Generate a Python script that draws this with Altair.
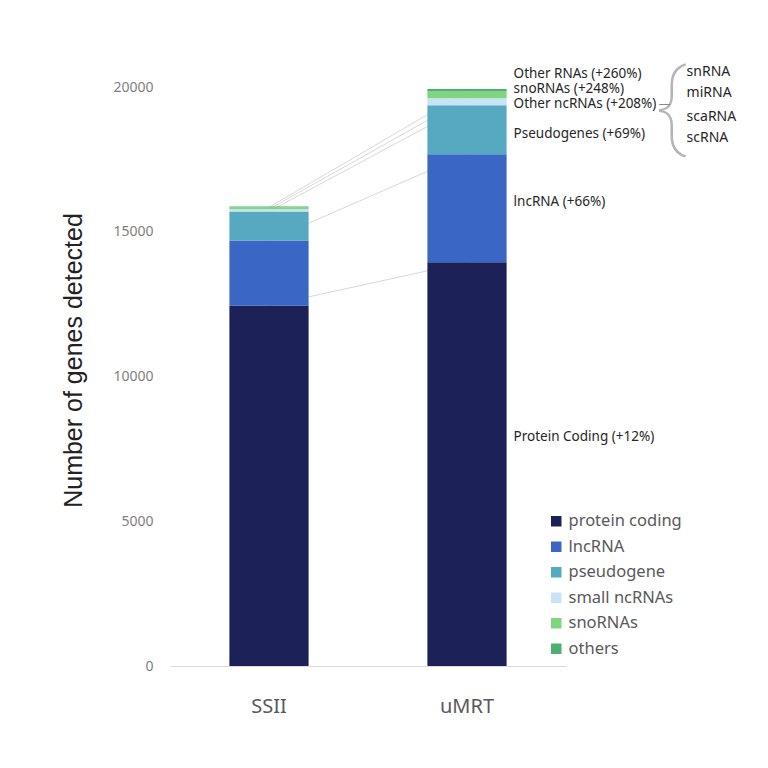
import altair as alt
import pandas as pd

methods = ["SSII", "uMRT"]
categories = ["protein coding", "lncRNA", "pseudogene", "small ncRNAs", "snoRNAs", "others"]
colors = ["#1c2257", "#3a66c5", "#57a8c1", "#c7e4f6", "#7fd67c", "#4daf74"]
ssii_counts = [12450, 2250, 1000, 80, 65, 25]
umrt_counts = [13950, 3730, 1690, 245, 226, 90]

ann_labels = ["Protein Coding (+12%)", "lncRNA (+66%)", "Pseudogenes (+69%)",
              "Other ncRNAs (+208%)", "snoRNAs (+248%)", "Other RNAs (+260%)"]
# label nudges (pixels, + = downward) relative to the segment middle
ann_dy = [-27, -6, 4, 2, -6, -16]
subtypes = ["snRNA", "miRNA", "scaRNA", "scRNA"]
sub_dy = [-32, -11, 13, 34]

FONT = "Noto Sans"
W, H = 396, 579
YMAX = 20000
PX = YMAX / H  # data units per pixel

rows = []
for m, counts in zip(methods, [ssii_counts, umrt_counts]):
    cum = 0
    for i, (c, v) in enumerate(zip(categories, counts)):
        rows.append({"method": m, "category": c, "idx": i, "value": v,
                     "top": cum + v, "mid": cum + v / 2})
        cum += v
df = pd.DataFrame(rows)

umrt = df[df.method == "uMRT"].reset_index(drop=True)
ann = pd.DataFrame({"method": "uMRT", "label": ann_labels,
                    "y": [m - d * PX for m, d in zip(umrt["mid"], ann_dy)]})
anchor_y = float(umrt.loc[3, "mid"]) - 2 * PX
sub = pd.DataFrame({"method": "uMRT", "label": subtypes,
                    "y": [anchor_y - d * PX for d in sub_dy]})
brace = pd.DataFrame({"method": ["uMRT"], "y": [anchor_y]})

xscale = alt.Scale(domain=methods, paddingInner=0.6, paddingOuter=0.3)
yscale = alt.Scale(domain=[0, YMAX])
ytitle = "Number of genes detected"
yaxis = alt.Axis(values=[0, 5000, 10000, 15000, 20000], grid=False, domain=False, ticks=False,
                 labelFontSize=14, labelColor="#7f7f7f", labelPadding=17, format="d",
                 title=ytitle, titleFontSize=25, titleFontWeight="normal", titleColor="#222222",
                 titleFont="Liberation Sans", labelFont=FONT,
                 titleAngle=-90, titleX=-97, titleY=273, titleAlign="center", titleBaseline="middle")
xaxis = alt.Axis(title=None, labelAngle=0, domainColor="#d9d9d9", ticks=False,
                 labelFontSize=20, labelColor="#595959", labelPadding=30, labelFont=FONT)

lines = alt.Chart(df[df.idx < 5]).mark_line(color="#d9d9d9", strokeWidth=1).encode(
    x=alt.X("method:N", scale=xscale, axis=xaxis, sort=methods),
    y=alt.Y("top:Q", scale=yscale, axis=yaxis, title=ytitle),
    detail="category:N",
)

bars = alt.Chart(df).mark_bar().encode(
    x=alt.X("method:N", scale=xscale, axis=xaxis, sort=methods),
    y=alt.Y("value:Q", stack="zero", scale=yscale, axis=yaxis, title=ytitle),
    color=alt.Color("category:N", scale=alt.Scale(domain=categories, range=colors),
                    legend=alt.Legend(title=None, orient="none", legendX=378, legendY=426,
                                      symbolType="square", symbolSize=110, symbolStrokeWidth=0,
                                      labelFontSize=16.5, labelColor="#595959", labelFont=FONT,
                                      rowPadding=8.5)),
    order=alt.Order("idx:Q", sort="ascending"),
)

labels = alt.Chart(ann).mark_text(align="left", baseline="middle", dx=7, fontSize=13.5,
                                  color="#262626", font=FONT).encode(
    x=alt.X("method:N", bandPosition=1),
    y=alt.Y("y:Q"),
    text="label:N",
)

sublabels = alt.Chart(sub).mark_text(align="left", baseline="middle", dx=180, fontSize=14,
                                     color="#262626", font=FONT).encode(
    x=alt.X("method:N", bandPosition=1),
    y=alt.Y("y:Q"),
    text="label:N",
)

brace_mark = alt.Chart(brace).mark_text(align="left", baseline="middle", dx=149, dy=4, fontSize=95,
                                        color="#b5b5b5", font="Roboto", fontWeight=100,
                                        text="{").encode(
    x=alt.X("method:N", bandPosition=1),
    y=alt.Y("y:Q"),
)

connector = alt.Chart(brace).mark_text(align="left", baseline="middle", dx=152, fontSize=12,
                                       color="#8a8a8a", font=FONT, text="\u2014").encode(
    x=alt.X("method:N", bandPosition=1),
    y=alt.Y("y:Q"),
)

chart = alt.layer(lines, bars, labels, sublabels, brace_mark, connector).properties(
    width=W, height=H,
    background="white",
    autosize=alt.AutoSizeParams(type="none"),
    padding={"left": 170, "top": 87, "right": 202, "bottom": 102},
).configure_view(stroke=None)

chart.save("out.html", embed_options={"renderer": "svg", "actions": False})
